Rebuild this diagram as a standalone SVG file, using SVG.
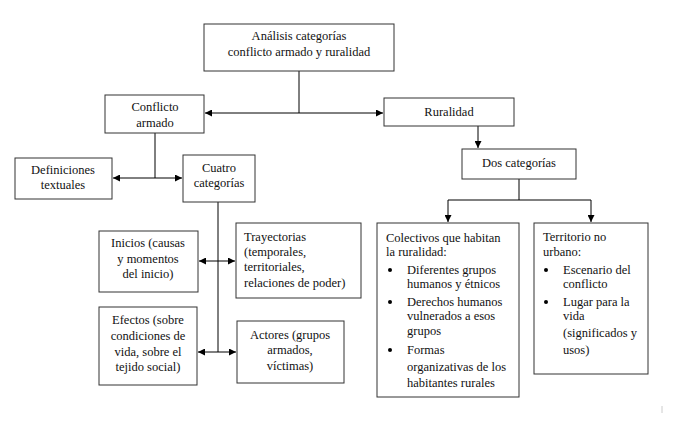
<svg xmlns="http://www.w3.org/2000/svg" width="680" height="424" viewBox="0 0 680 424">
<defs>
<marker id="ah" viewBox="0 0 10 10" refX="10" refY="5" markerWidth="7" markerHeight="7" markerUnits="userSpaceOnUse" orient="auto-start-reverse">
<path d="M0,0 L10,5 L0,10 Z" fill="#000"/>
</marker>
</defs>
<style>
.box{fill:#fff;stroke:#333;stroke-width:1}
text{font-family:'Liberation Serif','DejaVu Serif',serif;font-size:12.5px;fill:#111}
.c{text-anchor:middle}
.ln{fill:none;stroke:#000;stroke-width:1}
</style>
<rect width="680" height="424" fill="#fff"/>
<g id="connectors">
<line class="ln" x1="299" y1="71" x2="299" y2="113"/>
<line class="ln" x1="205" y1="113" x2="383" y2="113" marker-start="url(#ah)" marker-end="url(#ah)"/>
<line class="ln" x1="478" y1="126" x2="478" y2="148" marker-end="url(#ah)"/>
<line class="ln" x1="519" y1="179" x2="519" y2="200"/>
<polyline class="ln" points="448,222 448,200 591,200 591,222" marker-start="url(#ah)" marker-end="url(#ah)"/>
<line class="ln" x1="155" y1="133" x2="155" y2="178"/>
<line class="ln" x1="113" y1="178" x2="182" y2="178" marker-start="url(#ah)" marker-end="url(#ah)"/>
<line class="ln" x1="218" y1="202" x2="218" y2="352"/>
<line class="ln" x1="199" y1="261" x2="235" y2="261" marker-start="url(#ah)" marker-end="url(#ah)"/>
<line class="ln" x1="198" y1="352" x2="236" y2="352" marker-start="url(#ah)" marker-end="url(#ah)"/>
</g>
<g id="n-analisis">
<rect class="box" x="204" y="24" width="190" height="47"/>
<text class="c" x="299" y="40">Análisis categorías</text>
<text class="c" x="299" y="56">conflicto armado y ruralidad</text>
</g>
<g id="n-conflicto">
<rect class="box" x="105" y="95" width="99" height="38"/>
<text class="c" x="155" y="111">Conflicto</text>
<text class="c" x="155" y="127">armado</text>
</g>
<g id="n-ruralidad">
<rect class="box" x="384" y="98" width="130" height="28"/>
<text class="c" x="449" y="116">Ruralidad</text>
</g>
<g id="n-definiciones">
<rect class="box" x="15" y="158" width="97" height="41"/>
<text class="c" x="63" y="174">Definiciones</text>
<text class="c" x="63" y="189">textuales</text>
</g>
<g id="n-cuatro">
<rect class="box" x="183" y="155" width="72" height="47"/>
<text class="c" x="219" y="172">Cuatro</text>
<text class="c" x="219" y="187">categorías</text>
</g>
<g id="n-dos">
<rect class="box" x="462" y="149" width="114" height="30"/>
<text class="c" x="519" y="167">Dos categorías</text>
</g>
<g id="n-inicios">
<rect class="box" x="99" y="231" width="99" height="61"/>
<text class="c" x="148" y="247">Inicios (causas</text>
<text class="c" x="148" y="263">y momentos</text>
<text class="c" x="148" y="278">del inicio)</text>
</g>
<g id="n-trayectorias">
<rect class="box" x="236" y="223" width="125" height="75"/>
<text x="244" y="241">Trayectorias</text>
<text x="244" y="256">(temporales,</text>
<text x="244" y="271">territoriales,</text>
<text x="244" y="287">relaciones de poder)</text>
</g>
<g id="n-efectos">
<rect class="box" x="99" y="307" width="98" height="78"/>
<text class="c" x="148" y="324">Efectos (sobre</text>
<text class="c" x="148" y="340">condiciones de</text>
<text class="c" x="148" y="356">vida, sobre el</text>
<text class="c" x="148" y="371">tejido social)</text>
</g>
<g id="n-actores">
<rect class="box" x="237" y="321" width="107" height="62"/>
<text class="c" x="290" y="339">Actores (grupos</text>
<text class="c" x="290" y="354">armados,</text>
<text class="c" x="290" y="370">víctimas)</text>
</g>
<g id="n-colectivos">
<rect class="box" x="377" y="223" width="142" height="174"/>
<text x="386" y="242">Colectivos que habitan</text>
<text x="386" y="256">la ruralidad:</text>
<circle cx="390" cy="270" r="2"/>
<text x="407" y="274">Diferentes grupos</text>
<text x="407" y="288">humanos y étnicos</text>
<circle cx="390" cy="302" r="2"/>
<text x="407" y="306">Derechos humanos</text>
<text x="407" y="320">vulnerados a esos</text>
<text x="407" y="335">grupos</text>
<circle cx="390" cy="350" r="2"/>
<text x="407" y="354">Formas</text>
<text x="407" y="371">organizativas de los</text>
<text x="407" y="387">habitantes rurales</text>
</g>
<g id="n-territorio">
<rect class="box" x="534" y="223" width="114" height="151"/>
<text x="543" y="241">Territorio no</text>
<text x="543" y="256">urbano:</text>
<circle cx="546" cy="270" r="2"/>
<text x="563" y="274">Escenario del</text>
<text x="563" y="288">conflicto</text>
<circle cx="546" cy="302" r="2"/>
<text x="563" y="306">Lugar para la</text>
<text x="563" y="320">vida</text>
<text x="563" y="337">(significados y</text>
<text x="563" y="354">usos)</text>
</g>
<line x1="662" y1="406" x2="662" y2="413" stroke="#ccc" stroke-width="1"/>
</svg>
